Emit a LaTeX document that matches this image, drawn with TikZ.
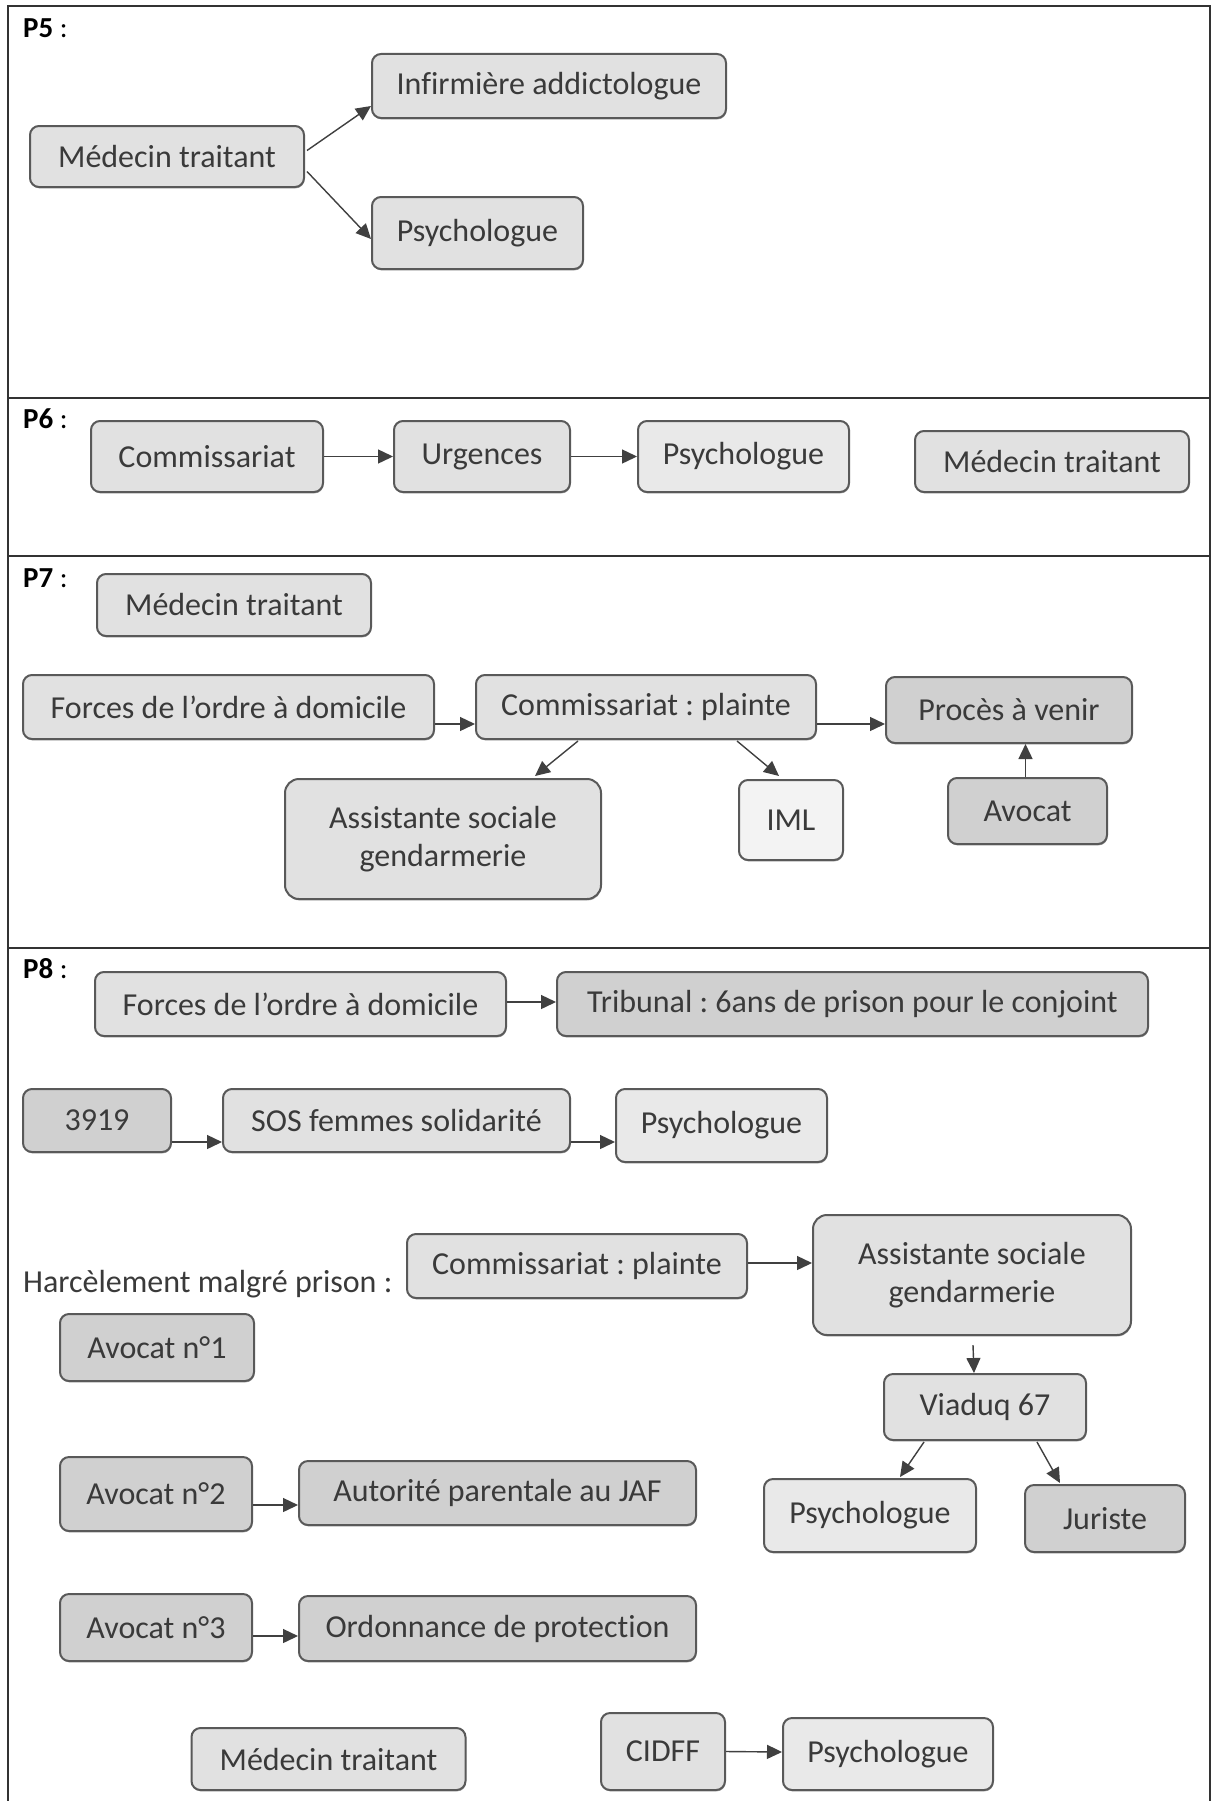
\documentclass[tikz,border=0pt]{standalone}
\usepackage{fontspec}
\setmainfont{Carlito}[Ligatures=CommonOff]
\frenchspacing
\usetikzlibrary{arrows.meta,calc,shadows}

\definecolor{frameline}{HTML}{333333}
\definecolor{boxline}{HTML}{595959}
\definecolor{txt}{HTML}{3A3A3A}
\definecolor{arr}{HTML}{404040}
\definecolor{lite}{HTML}{E1E1E1}
\definecolor{litest}{HTML}{E9E9E9}
\definecolor{palest}{HTML}{F3F3F3}
\definecolor{dark}{HTML}{D0D0D0}

\tikzset{
  box/.style={draw=boxline, line width=2pt, rounded corners=9pt, text=txt,
    font=\fontsize{32}{38.5}\selectfont, inner sep=0pt, align=center,
    drop shadow={shadow xshift=0.6pt, shadow yshift=-1.4pt, opacity=0.35, fill=black}},
  boxlite/.style={box, fill=lite},
  boxpale/.style={box, fill=litest},
  boxwhite/.style={box, fill=palest},
  boxdark/.style={box, fill=dark},
  conn/.style={draw=arr, line width=1.4pt, -{Triangle[length=15pt,width=14pt]}},
  frame/.style={draw=frameline, line width=2.5pt},
  tag/.style={text=black, font=\fontsize{29}{34}\selectfont, inner sep=0pt, anchor=base west},
  plain/.style={text=txt, font=\fontsize{32}{38.5}\selectfont, inner sep=0pt, anchor=base west}
}

\begin{document}
\begin{tikzpicture}[x=1pt, y=-1pt]
\useasboundingbox (0,0) rectangle (1216,1801);
\fill[white] (0,0) rectangle (1216,1801);

% table frame and section rules
\draw[frame] (8,1801) -- (8,6) -- (1210,6) -- (1210,1801);
\draw[frame] (8,398) -- (1210,398);
\draw[frame] (8,556) -- (1210,556);
\draw[frame] (8,948) -- (1210,948);

% ---------------- P5
\node[tag] (t5) at (23,38) {\textbf{P5} :};
\node[boxlite, minimum width=274pt, minimum height=61pt] (p5med) at (167,156.5) {Médecin traitant};
\node[boxlite, minimum width=354pt, minimum height=64pt] (p5inf) at (549,86) {Infirmière addictologue};
\node[boxlite, minimum width=211pt, minimum height=72pt] (p5psy) at (477.5,233) {Psychologue};
\draw[conn] ($(p5med.east)+(2,-6)$) -- ($(p5inf.west)+(0,20)$);
\draw[conn] ($(p5med.east)+(2,15)$) -- ($(p5psy.west)+(0,6)$);

% ---------------- P6
\node[tag] (t6) at (23,428) {\textbf{P6} :};
\node[boxlite, minimum width=232pt, minimum height=71pt] (p6com) at (207,456.5) {Commissariat};
\node[boxlite, minimum width=176pt, minimum height=71pt] (p6urg) at (482,456.5) {Urgences};
\node[boxpale, minimum width=211pt, minimum height=71pt] (p6psy) at (743.5,456.5) {Psychologue};
\node[boxlite, minimum width=274pt, minimum height=61pt] (p6med) at (1052,461.5) {Médecin traitant};
\draw[conn] (p6com.east) -- (p6urg.west);
\draw[conn] (p6urg.east) -- (p6psy.west);

% ---------------- P7
\node[tag] (t7) at (23,587) {\textbf{P7} :};
\node[boxlite, minimum width=274pt, minimum height=62pt] (p7med) at (234,605) {Médecin traitant};
\node[boxlite, minimum width=411pt, minimum height=64pt] (p7for) at (228.5,707) {Forces de l’ordre à domicile};
\node[boxlite, minimum width=340pt, minimum height=64pt] (p7com) at (646,707) {Commissariat : plainte};
\node[boxdark, minimum width=246pt, minimum height=66pt] (p7pro) at (1009,710) {Procès à venir};
\node[boxlite, minimum width=316pt, minimum height=120pt, rounded corners=14pt] (p7ass) at (443,839) {Assistante sociale\\gendarmerie};
\node[boxwhite, minimum width=104pt, minimum height=80pt] (p7iml) at (791,820) {IML};
\node[boxdark, minimum width=159pt, minimum height=66pt] (p7avo) at (1027.5,811) {Avocat};
\draw[conn] ($(p7for.east)+(0,17)$) -- ($(p7com.west)+(0,17)$);
\draw[conn] ($(p7com.east)+(0,17)$) -- ($(p7pro.west)+(0,14)$);
\draw[conn] ($(p7com.south)+(-68,1)$) -- ($(p7ass.north)+(92,-2)$);
\draw[conn] ($(p7com.south)+(91,1)$) -- ($(p7iml.north)+(-12,-3)$);
\coordinate (avtop) at ($(p7avo.north)+(-2,0)$);
\draw[conn] (avtop) -- (avtop |- p7pro.south);

% ---------------- P8
\node[tag] (t8) at (23,978) {\textbf{P8} :};
\node[boxlite, minimum width=411pt, minimum height=64pt] (p8for) at (300.5,1004) {Forces de l’ordre à domicile};
\node[boxdark, minimum width=591pt, minimum height=64pt] (p8tri) at (852.5,1004) {Tribunal : 6ans de prison pour le conjoint};
\draw[conn] ($(p8for.east)+(0,-2)$) -- ($(p8tri.west)+(0,-2)$);

\node[boxdark, minimum width=148pt, minimum height=63pt] (p8num) at (97,1120.5) {3919};
\node[boxlite, minimum width=347pt, minimum height=63pt] (p8sos) at (396.5,1120.5) {SOS femmes solidarité};
\node[boxpale, minimum width=211pt, minimum height=73pt] (p8psy) at (721.5,1125.5) {Psychologue};
\draw[conn] ($(p8num.east)+(0,21.5)$) -- ($(p8sos.west)+(0,21.5)$);
\draw[conn] ($(p8sos.east)+(0,21.5)$) -- ($(p8psy.west)+(0,16.5)$);

\node[plain] (p8har) at (23,1292) {Harcèlement malgré prison :};
\node[boxlite, minimum width=340pt, minimum height=64pt] (p8com) at (577,1266) {Commissariat : plainte};
\node[boxlite, minimum width=318pt, minimum height=120pt, rounded corners=14pt] (p8ass) at (972,1275) {Assistante sociale\\gendarmerie};
\draw[conn] ($(p8com.east)+(0,-3)$) -- ($(p8ass.west)+(0,-12)$);

\node[boxdark, minimum width=194pt, minimum height=67pt] (p8av1) at (157,1347.5) {Avocat n°1};
\node[boxlite, minimum width=202pt, minimum height=66pt] (p8via) at (985,1407) {Viaduq 67};
\draw[conn] ($(p8ass.south)+(1,9)$) -- ($(p8via.north)+(-11,0)$);

\node[boxpale, minimum width=212pt, minimum height=73pt] (p8psy2) at (870,1515.5) {Psychologue};
\node[boxdark, minimum width=160pt, minimum height=67pt] (p8jur) at (1105,1518.5) {Juriste};
\draw[conn] ($(p8via.south)+(-61,1)$) -- ($(p8psy2.north)+(30,-1)$);
\draw[conn] ($(p8via.south)+(52,1)$) -- ($(p8jur.north)+(-45,-1)$);

\node[boxdark, minimum width=192pt, minimum height=74pt] (p8av2) at (156,1494) {Avocat n°2};
\node[boxdark, minimum width=397pt, minimum height=64pt] (p8aut) at (497.5,1493) {Autorité parentale au JAF};
\draw[conn] ($(p8av2.east)+(0,11)$) -- ($(p8aut.west)+(0,12)$);

\node[boxdark, minimum width=192pt, minimum height=67pt] (p8av3) at (156,1627.5) {Avocat n°3};
\node[boxdark, minimum width=397pt, minimum height=65pt] (p8ord) at (497.5,1628.5) {Ordonnance de protection};
\draw[conn] ($(p8av3.east)+(0,8.5)$) -- ($(p8ord.west)+(0,7.5)$);

\node[boxlite, minimum width=274pt, minimum height=62pt] (p8med) at (328.5,1759) {Médecin traitant};
\node[boxlite, minimum width=124pt, minimum height=77pt] (p8cid) at (663,1751.5) {CIDFF};
\node[boxpale, minimum width=210pt, minimum height=72pt] (p8psy3) at (888,1754) {Psychologue};
\draw[conn] (p8cid.east) -- ($(p8psy3.west)+(0,-2)$);
\end{tikzpicture}
\end{document}
